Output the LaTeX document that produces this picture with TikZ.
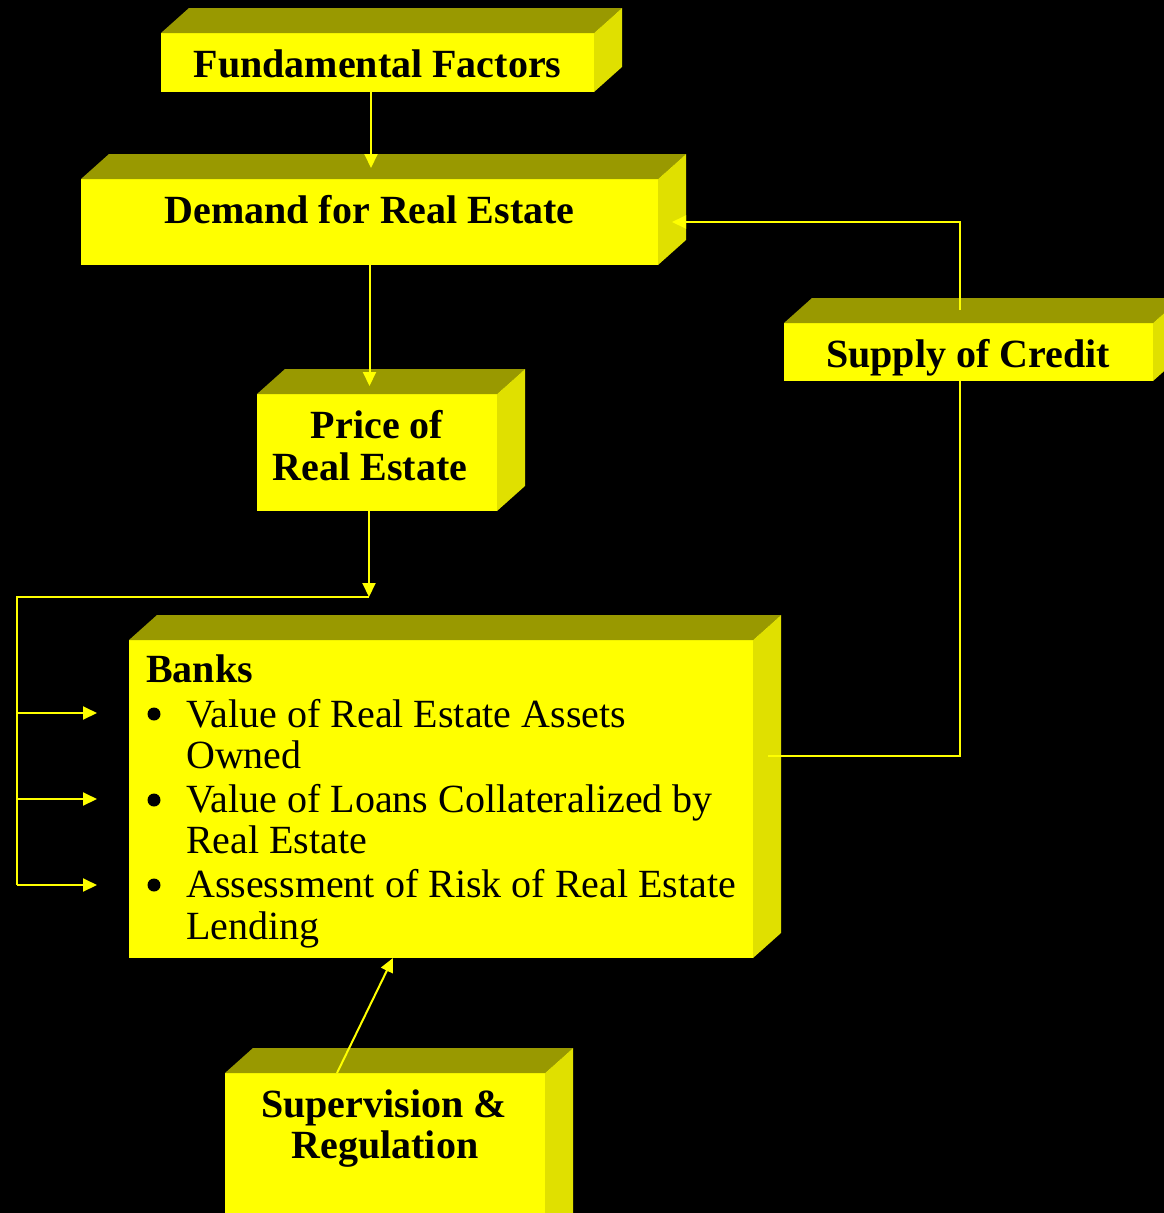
\documentclass[tikz,border=0pt]{standalone}
\usepackage{fontspec}
\setmainfont{Liberation Serif}
\usetikzlibrary{calc,arrows.meta}
\definecolor{frontc}{HTML}{FFFF00}
\definecolor{topc}{HTML}{999900}
\definecolor{sidec}{HTML}{E0E000}
\newcommand\boxfaces[1]{%
 \fill[topc] (#1.north west) -- ++(28,-25) -- ($(#1.north east)+(28,-25)$) -- (#1.north east) -- cycle;
 \fill[sidec] (#1.north east) -- ++(28,-25) -- ($(#1.south east)+(28,-25)$) -- (#1.south east) -- cycle;}
\begin{document}
\begin{tikzpicture}[x=1pt,y=-1pt,
  front/.style={fill=frontc, draw=none, inner sep=0pt, outer sep=0pt},
  lbl/.style={font=\fontsize{40}{48}\selectfont\bfseries, text=black, inner sep=0pt, anchor=base},
  itm/.style={font=\fontsize{40}{48}\selectfont, text=black, inner sep=0pt, anchor=base west},
  bul/.style={circle, fill=black, draw=none, inner sep=0pt, minimum size=13pt},
  ln/.style={draw=frontc, line width=2pt},
  arr/.style={ln, -{Triangle[length=14pt,width=13pt]}}]
\useasboundingbox (0,0) rectangle (1164,1213);
\fill[black] (0,0) rectangle (1164,1213);
\clip (0,0) rectangle (1164,1213);

% boxes
\node[front, minimum width=433, minimum height=59] (ff) at (377.5,62.5) {};
\boxfaces{ff}
\node[front, minimum width=577, minimum height=86] (dem) at (369.5,222) {};
\boxfaces{dem}
\node[front, minimum width=369, minimum height=58] (sc) at (968.5,352) {};
\boxfaces{sc}
\node[front, minimum width=240, minimum height=117] (pr) at (377,452.5) {};
\boxfaces{pr}
\node[front, minimum width=624, minimum height=318] (bank) at (441,799) {};
\boxfaces{bank}
\node[front, minimum width=320, minimum height=177] (sup) at (385,1161.5) {};
\boxfaces{sup}

% texts
\node[lbl] (tff) at (377.5,77) {Fundamental Factors};
\node[lbl] (tdem) at (369.5,223) {Demand for Real Estate};
\node[lbl] (tsc) at (968,367) {Supply of Credit};
\node[lbl] (tpr1) at (377,438) {Price of};
\node[lbl] (tpr2) at (370,480) {Real Estate};
\node[lbl] (tsup1) at (384,1117) {Supervision \&};
\node[lbl] (tsup2) at (385,1158) {Regulation};
\node[lbl, anchor=base west] (tbk) at (146,682) {Banks};
\node[bul] (bu1) at (154,714) {};
\node[itm] (i1a) at (186,727) {Value of Real Estate Assets};
\node[itm] (i1b) at (186,768) {Owned};
\node[bul] (bu2) at (154,800) {};
\node[itm] (i2a) at (186,812) {Value of Loans Collateralized by};
\node[itm] (i2b) at (186,853) {Real Estate};
\node[bul] (bu3) at (154,885) {};
\node[itm] (i3a) at (186,897) {Assessment of Risk of Real Estate};
\node[itm] (i3b) at (186,939) {Lending};

% coordinates
\coordinate (j) at (369,597);
\coordinate (sp) at (17,597);
\coordinate (b1) at (97,713);
\coordinate (b2) at (97,799);
\coordinate (b3) at (97,885);
\coordinate (bk) at (768,756);
\coordinate (rv) at (960,222);

% connectors
\draw[arr] ([xshift=1.5pt]ff.south -| dem.north) -- ($(dem.north)+(1.5,-11)$);
\draw[arr] (dem.south) -- ($(dem.south |- pr.north)+(0,-8)$);
\draw[arr] (pr.south -| j) -- (j);
\draw[ln] (j) -- (sp) -- (sp |- b3);
\draw[arr] (sp |- b1) -- (b1);
\draw[arr] (sp |- b2) -- (b2);
\draw[arr] (sp |- b3) -- (b3);
\draw[ln] (bk) -| (rv |- sc.south);
\draw[arr] ($(rv |- sc.north)+(0,-13)$) -- (rv) -- ($(dem.east |- rv)+(14,0)$);
\draw[arr] ($(sup.north)+(-48,0)$) -- ($(bank.south)+(-48,0)$);
\end{tikzpicture}
\end{document}
